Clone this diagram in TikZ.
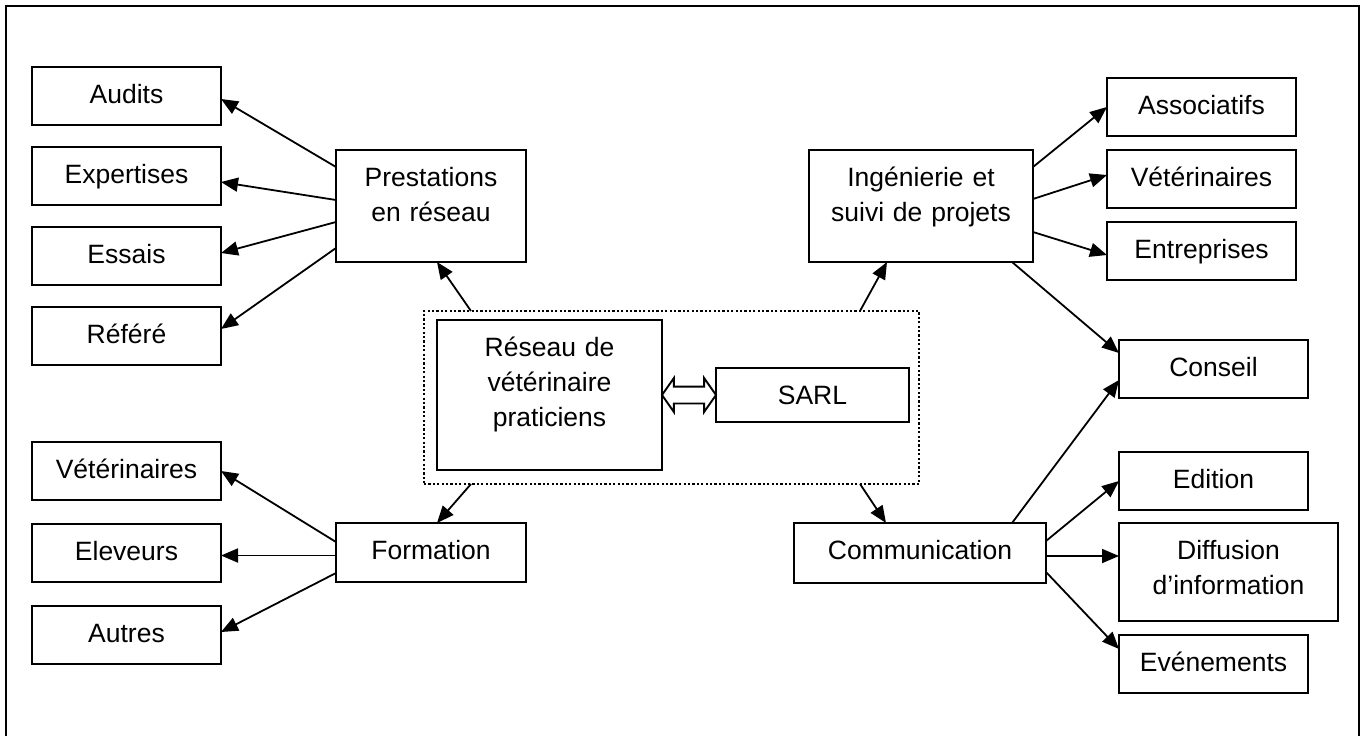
\documentclass[tikz,border=0pt]{standalone}
\usepackage{fontspec}
\setmainfont{Liberation Sans}
\usetikzlibrary{positioning,calc,arrows.meta,shapes.arrows}
\tikzstyle{block} = [draw, line width=2pt, inner sep=0pt, outer sep=0pt,
    align=center, text height=36pt, font=\fontsize{26.5pt}{35pt}\selectfont]
\tikzstyle{leaf} = [block, text width=189pt, text depth=22pt]
\tikzstyle{group} = [draw, line width=2.2pt, dash pattern=on 2.2pt off 2.2pt,
    inner sep=0pt, outer sep=0pt, minimum width=495pt, minimum height=173pt]
\tikzstyle{link} = [draw, line width=1.9pt, double arrow, double arrow head extend=8.5pt,
    double arrow tip angle=110, minimum height=54pt, inner xsep=0pt, inner ysep=7.5pt, outer sep=0pt]
\tikzstyle{line} = [line width=1.8pt, -{Triangle[length=17pt,width=14pt]}]

\begin{document}
\begin{tikzpicture}[x=1pt, y=-1pt]
    \useasboundingbox (0,0) rectangle (1366,736);

    % Frame
    \draw [line width=2pt] (6,745) -- (6,6) -- (1359,6) -- (1359,745);

    % Dotted group round the centre
    \node [group, anchor=north west] (grp) at (424,311) {};

    % Centre
    \node [block, text width=225pt, text depth=114pt, anchor=north west] (reseau) at (437,320)
        {Réseau de\\vétérinaire\\praticiens};
    \node [block, text width=193pt, text depth=18pt, anchor=north west] (sarl) at (716,368) {SARL};
    \node [link] (link) at ($(reseau.east)!0.5!(sarl.west)$) {};

    % Prestations and its leaves
    \node [block, text width=190pt, text depth=76pt, anchor=north west] (prest) at (336,150)
        {Prestations\\en réseau};
    \node [leaf, anchor=north west] (audits) at (32,67) {Audits};
    \node [leaf, below=22pt of audits] (expertises) {Expertises};
    \node [leaf, below=22pt of expertises] (essais) {Essais};
    \node [leaf, below=22pt of essais] (refere) {Référé};

    % Formation and its leaves
    \node [block, text width=190pt, text depth=23pt, anchor=north west] (formation) at (336,523) {Formation};
    \node [leaf, anchor=north west] (vetF) at (32,442) {Vétérinaires};
    \node [leaf, below=24pt of vetF] (eleveurs) {Eleveurs};
    \node [leaf, below=24pt of eleveurs] (autres) {Autres};

    % Ingenierie and its leaves
    \node [block, text width=224pt, text depth=76pt, anchor=north west] (inge) at (809,150)
        {Ingénierie et\\suivi de projets};
    \node [leaf, anchor=north west] (assoc) at (1107,78) {Associatifs};
    \node [leaf, below=14pt of assoc] (vetI) {Vétérinaires};
    \node [leaf, below=14pt of vetI] (entreprises) {Entreprises};
    \node [leaf, anchor=north west] (conseil) at (1119,340) {Conseil};

    % Communication and its leaves
    \node [block, text width=252pt, text depth=24pt, anchor=north west] (comm) at (794,523) {Communication};
    \node [leaf, anchor=north west] (edition) at (1119,452) {Edition};
    \node [block, text width=219pt, text depth=62pt, below=13pt of edition.south west,
        anchor=north west] (diffusion) {Diffusion\\d’information};
    \node [leaf, below=14pt of diffusion.south west, anchor=north west] (evenements) {Evénements};

    % From the group
    \draw [line] ([xshift=47pt]grp.north west) -- ([xshift=101pt]prest.south west);
    \draw [line] ([xshift=436pt]grp.north west) -- ([xshift=78pt]inge.south west);
    \draw [line] ([xshift=47pt]grp.south west) -- ([xshift=101pt]formation.north west);
    \draw [line] ([xshift=436pt]grp.south west) -- ([xshift=92pt]comm.north west);

    % Prestations
    \draw [line] ([yshift=-17pt]prest.north west) -- ([yshift=-3pt]audits.east);
    \draw [line] ([yshift=-50pt]prest.north west) -- ([yshift=-6pt]expertises.east);
    \draw [line] ([yshift=-72pt]prest.north west) -- ([yshift=3pt]essais.east);
    \draw [line] ([yshift=-98pt]prest.north west) -- ([yshift=7pt]refere.east);

    % Formation
    \draw [line] ([yshift=-19pt]formation.north west) -- (vetF.east);
    \draw [line] ([yshift=-3pt]formation.west) -- ([yshift=-3pt]formation.west -| eleveurs.east);
    \draw [line] ([yshift=-50pt]formation.north west) -- ([yshift=3pt]autres.east);

    % Ingenierie
    \draw [line] ([yshift=-17pt]inge.north east) -- (assoc.west);
    \draw [line] ([yshift=-49pt]inge.north east) -- ([yshift=4pt]vetI.west);
    \draw [line] ([yshift=-82pt]inge.north east) -- ([yshift=-4pt]entreprises.west);
    \draw [line] ([xshift=-21pt]inge.south east) -- ([yshift=-13pt]conseil.north west);

    % Communication
    \draw [line] ([xshift=218pt]comm.north west) -- ([yshift=-40pt]conseil.north west);
    \draw [line] ([yshift=-18pt]comm.north east) -- (edition.west);
    \draw [line] ([yshift=-3pt]comm.east) -- ([yshift=-3pt]comm.east -| diffusion.west);
    \draw [line] ([yshift=-49pt]comm.north east) -- ([yshift=-14pt]evenements.north west);
\end{tikzpicture}
\end{document}
